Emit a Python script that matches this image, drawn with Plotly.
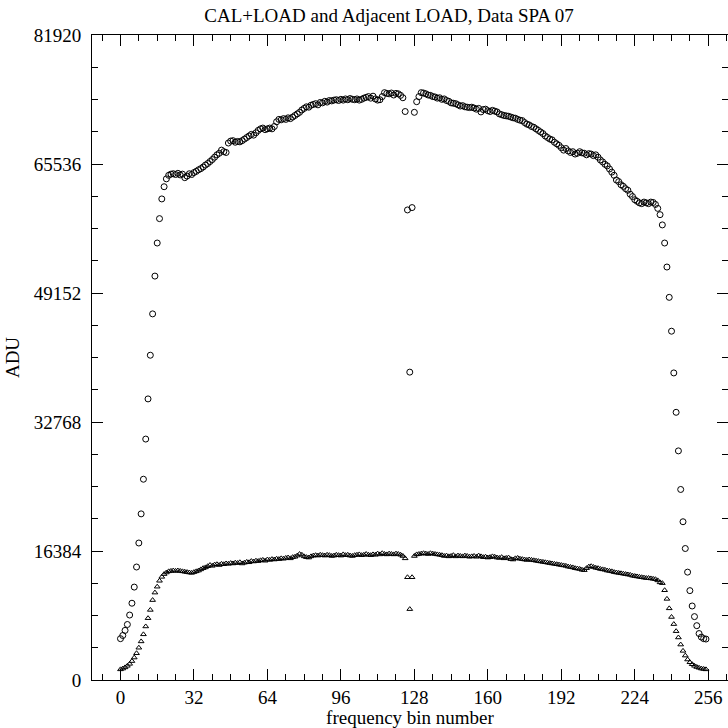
import plotly.graph_objects as go

bins = list(range(256))

cal_load = [
    5250, 5650, 6300, 7050, 8250, 9750, 11800, 14350, 17400, 21100,
    25500, 30600, 35700, 41250, 46500, 51300, 55500, 58600, 61100, 62650,
    63650, 64100, 64250, 64300, 64200, 64350, 64150, 64250, 63800, 64000,
    64300, 64200, 64450, 64600, 64800, 64950, 65150, 65400, 65600, 65850,
    66100, 66400, 66700, 66900, 67300, 67100, 67000, 68200, 68450, 68500,
    68300, 68400, 68350, 68500, 68700, 68900, 69100, 69300, 69200, 69500,
    69800, 70000, 70100, 69900, 70000, 70100, 70000, 70300, 70900, 71200,
    71150, 71300, 71200, 71400, 71300, 71500, 71700, 71900, 72100, 72400,
    72600, 72800, 72750, 73000, 73100, 73200, 73050, 73350, 73300, 73500,
    73400, 73600, 73550, 73650, 73700, 73600, 73750, 73650, 73800, 73700,
    73850, 73750, 73700, 73800, 73650, 73750, 73900, 74000, 74100, 73900,
    74150, 73800, 73650, 73700, 74100, 74600, 74500, 74450, 74550, 74300,
    74500, 74450, 74250, 73950, 72200, 59700, 39100, 60000, 72100, 73450,
    74100, 74600, 74550, 74450, 74300, 74250, 74100, 74050, 73900, 73950,
    73750, 73800, 73600, 73500, 73300, 73250, 73200, 73050, 72900, 72950,
    72800, 72750, 72700, 72750, 72650, 72500, 72600, 72150, 72450, 72500,
    72300, 72200, 72350, 72250, 72150, 71900, 71800, 71700, 71650, 71600,
    71500, 71400, 71350, 71200, 71100, 71050, 70800, 70600, 70500, 70300,
    70200, 70000, 69800, 69600, 69400, 69100, 68900, 68700, 68600, 68300,
    68100, 67900, 67600, 67300, 67500, 67200, 67000, 67100, 66800, 66900,
    67100, 66950, 66900, 66700, 66850, 66800, 66600, 66700, 66400, 66050,
    65800, 65500, 65300, 64900, 64500, 64100, 63500, 63300, 62900, 62700,
    62400, 62200, 61700, 61400, 61000, 60800, 60600, 60500, 60700, 60600,
    60500, 60700, 60650, 60400, 59900, 59100, 57800, 55500, 52450, 48600,
    44300, 39000, 34000, 29100, 24200, 20100, 16700, 13700, 11350, 9400,
    8050, 6900, 5900, 5450, 5250, 5200,
]

load = [
    1350, 1450, 1600, 1800, 2050, 2400, 2850, 3400, 4100, 4900,
    5800, 6800, 7850, 8900, 10150, 11100, 11850, 12600, 13100, 13450,
    13650, 13800, 13850, 13900, 13850, 13900, 13850, 13800, 13750, 13700,
    13650, 13600, 13700, 13800, 13900, 14050, 14200, 14300, 14450, 14600,
    14500, 14650, 14700, 14600, 14750, 14700, 14800, 14750, 14850, 14800,
    14900, 14850, 14950, 14800, 14900, 15000, 14950, 15100, 15050, 15150,
    15100, 15200, 15250, 15150, 15300, 15250, 15350, 15300, 15400, 15350,
    15450, 15400, 15500, 15550, 15450, 15600, 15650, 15800, 16000, 15900,
    15700, 15600, 15550, 15700, 15800, 15850, 15800, 15900, 15850, 15800,
    15900, 15850, 15750, 15800, 15900, 15850, 15800, 15950, 15850, 15900,
    15800, 15750, 15850, 15900, 15950, 15850, 15900, 16000, 15900, 15850,
    15950, 15900, 16050, 15950, 16100, 16000, 15950, 16050, 16000, 15950,
    16050, 16000, 15900, 15750, 15450, 13050, 9000, 13050, 15750, 15950,
    16000, 16050, 16100, 16050, 16000, 16100, 16050, 16000, 15950, 15900,
    15850, 15750, 15800, 15700, 15750, 15850, 15700, 15800, 15750, 15700,
    15800, 15750, 15650, 15700, 15750, 15650, 15800, 15700, 15600, 15650,
    15550, 15600, 15700, 15650, 15550, 15500, 15600, 15450, 15500, 15550,
    15350, 15300, 15450, 15500, 15400, 15350, 15300, 15250, 15300, 15250,
    15200, 15150, 15100, 15050, 15000, 14950, 14900, 14850, 14800, 14750,
    14700, 14650, 14600, 14550, 14500, 14400, 14350, 14300, 14200, 14150,
    14100, 14000, 13950, 14200, 14400, 14450, 14350, 14250, 14200, 14100,
    14050, 14000, 13900, 13850, 13800, 13700, 13650, 13600, 13550, 13500,
    13450, 13400, 13350, 13250, 13200, 13150, 13100, 13050, 13000, 12950,
    12950, 12900, 12850, 12800, 12650, 12400, 12300, 11400, 10300, 9100,
    8000, 7100, 6200, 5400, 4500, 3700, 3100, 2600, 2250, 2000,
    1800, 1650, 1550, 1450, 1400, 1350,
]

x_ticks = [0, 32, 64, 96, 128, 160, 192, 224, 256]
y_ticks = [0, 16384, 32768, 49152, 65536, 81920]

FONT = "Liberation Serif"

fig = go.Figure()
fig.add_trace(go.Scatter(
    x=bins, y=cal_load, mode="markers", name="CAL+LOAD",
    marker=dict(symbol="circle-open", size=6, color="black", line=dict(width=1, color="black")),
))
fig.add_trace(go.Scatter(
    x=bins, y=load, mode="markers", name="LOAD",
    marker=dict(symbol="triangle-up-open", size=5, color="black", line=dict(width=1, color="black")),
))
fig.add_trace(go.Scatter(x=[], y=[], yaxis="y2", showlegend=False))

axis_common = dict(
    showgrid=False, zeroline=False, showline=True, linecolor="black", linewidth=1,
    ticks="inside", ticklen=11, tickwidth=1, tickcolor="black",
    tickfont=dict(family=FONT, size=19, color="black"),
)

fig.update_layout(
    width=728, height=728,
    margin=dict(l=92, r=0, t=35, b=48),
    paper_bgcolor="white", plot_bgcolor="white",
    showlegend=False,
    title=dict(
        text="CAL+LOAD and Adjacent LOAD, Data SPA 07",
        x=0.467, xref="paper", xanchor="center",
        y=0.979, yref="container", yanchor="middle",
        font=dict(family=FONT, size=19, color="black"),
    ),
    xaxis=dict(
        range=[-12.4, 264.6], tickvals=x_ticks, ticktext=[str(v) for v in x_ticks],
        mirror="ticks",
        minor=dict(dtick=8, tick0=0, ticks="inside", ticklen=6, tickcolor="black"),
        title=dict(text="frequency bin number", font=dict(family=FONT, size=19, color="black"), standoff=2),
        **axis_common,
    ),
    yaxis=dict(
        range=[0, 81920], tickvals=y_ticks, ticktext=[str(v) for v in y_ticks],
        minor=dict(dtick=4096, tick0=0, ticks="inside", ticklen=6, tickcolor="black"),
        ticklabelstandoff=6,
        title=dict(text="ADU", font=dict(family=FONT, size=19, color="black"), standoff=9),
        **axis_common,
    ),
    yaxis2=dict(
        range=[0, 81920], overlaying="y", side="right", anchor="free", position=1,
        showgrid=False, zeroline=False, showline=False, showticklabels=False,
        tickvals=y_ticks, ticks="inside", ticklen=11, tickcolor="black",
        minor=dict(dtick=4096, tick0=0, ticks="inside", ticklen=6, tickcolor="black"),
    ),
)

fig.write_html(
    "out.html",
    config={"displayModeBar": False},
    post_script="document.body.style.margin='0';document.body.style.overflow='hidden';",
)
